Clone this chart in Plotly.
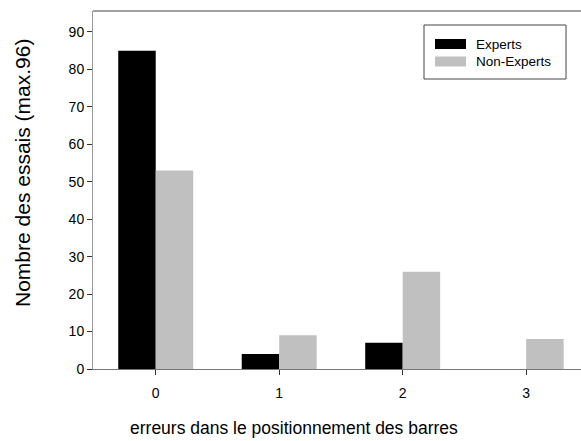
import plotly.graph_objects as go

# Data
categories = ["0", "1", "2", "3"]
experts = [85, 4, 7, 0]
non_experts = [53, 9, 26, 8]
series_names = ["Experts", "Non-Experts"]
series_colors = ["#000000", "#c0c0c0"]
y_ticks = [0, 10, 20, 30, 40, 50, 60, 70, 80, 90]

W, H = 581, 441
L, R, T, B = 93, 0, 11, 72
plot_w = W - L - R
plot_h = H - T - B


def px_x(p):
    return (p - L) / plot_w


def px_y(p):
    return (H - B - p) / plot_h


FONT = "Liberation Sans, Arial, sans-serif"

fig = go.Figure()
x_idx = list(range(len(categories)))
for name, vals, col in zip(series_names, [experts, non_experts], series_colors):
    fig.add_trace(go.Bar(x=x_idx, y=vals, name=name, marker=dict(color=col, line=dict(width=0)),
                         showlegend=False))

fig.update_layout(
    width=W, height=H,
    margin=dict(l=L, r=R, t=T, b=B),
    paper_bgcolor="white", plot_bgcolor="white",
    barmode="group", bargap=0.393, bargroupgap=0,
    font=dict(family=FONT, size=14, color="#000000"),
    xaxis=dict(range=[-0.508, 3.444], tickmode="array", tickvals=x_idx, ticktext=categories,
               showgrid=False, zeroline=False, showline=True, linecolor="#777777", linewidth=1,
               ticks="outside", ticklen=5, tickcolor="#333333", tickfont=dict(size=14),
               ticklabelstandoff=6),
    yaxis=dict(range=[0, 95.6], tickmode="array", tickvals=y_ticks,
               showgrid=False, zeroline=False, showline=True, linecolor="#999999", linewidth=1,
               ticks="outside", ticklen=5, tickcolor="#333333", tickfont=dict(size=14)),
)

# top frame line
fig.add_shape(type="line", xref="paper", yref="paper", x0=0, x1=1, y0=1, y1=1,
              line=dict(color="#444444", width=1))

# axis titles
fig.add_annotation(text="Nombre des essais (max.96)", xref="paper", yref="paper",
                   x=px_x(22), y=px_y(173), textangle=-90, showarrow=False,
                   font=dict(size=21), xanchor="center", yanchor="middle")
fig.add_annotation(text="erreurs dans le positionnement des barres", xref="paper", yref="paper",
                   x=px_x(294), y=px_y(428), showarrow=False,
                   font=dict(size=17.5), xanchor="center", yanchor="middle")

# legend box
fig.add_shape(type="rect", xref="paper", yref="paper",
              x0=px_x(424), x1=px_x(566), y0=px_y(79), y1=px_y(25),
              line=dict(color="#444444", width=1), fillcolor="white")
for i, (name, col) in enumerate(zip(series_names, series_colors)):
    cy = 44 + i * 17.5
    fig.add_shape(type="rect", xref="paper", yref="paper",
                  x0=px_x(435), x1=px_x(466), y0=px_y(cy + 5), y1=px_y(cy - 5),
                  line=dict(width=0), fillcolor=col)
    fig.add_annotation(text=name, xref="paper", yref="paper", x=px_x(474), y=px_y(cy),
                       showarrow=False, xanchor="left", yanchor="middle", font=dict(size=13.5))

fig.write_html("out.html")
